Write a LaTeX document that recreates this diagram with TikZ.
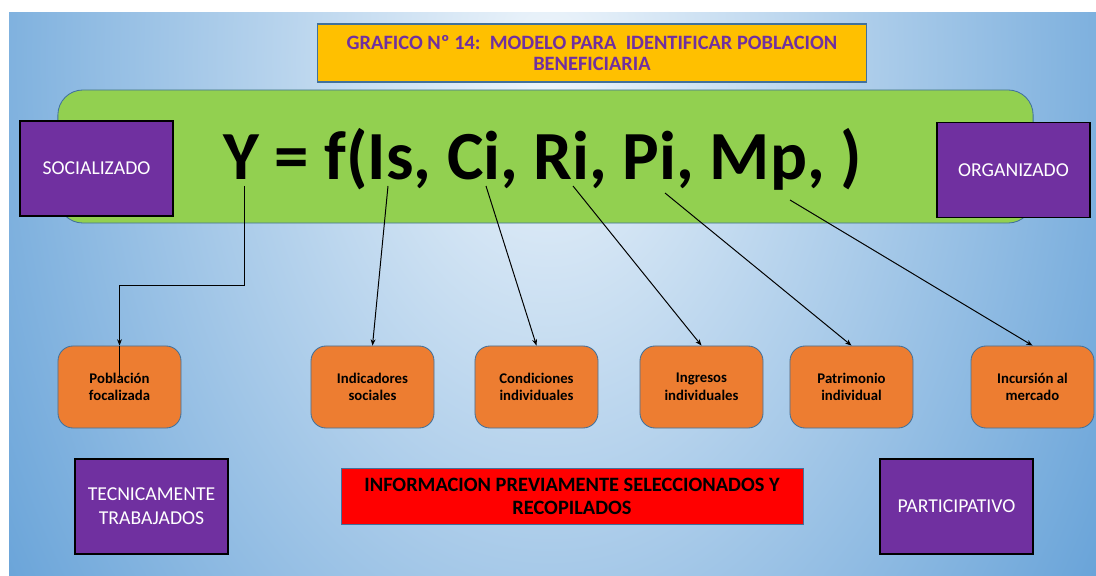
\documentclass[tikz,border=0pt]{standalone}
\usepackage{fontspec}
\setmainfont{Carlito}
\usetikzlibrary{arrows.meta}

\definecolor{bglight}{HTML}{EEF5FB}
\definecolor{bgdark}{HTML}{5B9BD5}
\definecolor{titleyellow}{HTML}{FFC000}
\definecolor{titlepurple}{HTML}{7030A0}
\definecolor{boxpurple}{HTML}{7030A0}
\definecolor{formgreen}{HTML}{92D050}
\definecolor{boxorange}{HTML}{ED7D31}
\definecolor{edgeblue}{HTML}{41719C}
\pgfdeclareradialshading{bgglow}{\pgfpoint{0bp}{0bp}}{color(0bp)=(bglight); color(25bp)=(bgdark); color(50bp)=(bgdark)}

\begin{document}
\begin{tikzpicture}[x=0.025cm, y=-0.025cm,
        purplebox/.style={draw=black, line width=1pt, fill=boxpurple, text=white,
            minimum width=3.825cm, minimum height=2.375cm, align=center,
            font=\fontsize{14}{17}\selectfont},
        varbox/.style={draw=edgeblue, line width=0.6pt, fill=boxorange, rounded corners=0.375cm,
            minimum width=3.075cm, minimum height=2.05cm, align=center,
            font=\bfseries\fontsize{10.5}{12.5}\selectfont},
        arr/.style={-{Stealth[length=4.5pt, width=3.5pt]}, line width=0.7pt}]
    \useasboundingbox (0,0) rectangle (1096,576);
    \fill[white] (0,0) rectangle (1096,576);

    % fondo
    \fill[bgdark] (9,13) rectangle (1096,576);
    \begin{scope}
        \clip (9,13) rectangle (1096,576);
        \shade[shading=bgglow] (548,60) ellipse (18cm and 26.6cm);
    \end{scope}

    \node[draw=edgeblue, line width=0.8pt, fill=titleyellow, minimum width=13.7cm, minimum height=1.45cm,
        align=center, text=titlepurple, font=\bfseries\fontsize{14.5}{15.5}\selectfont] (titulo) at (592,53)
        {GRAFICO Nº 14:\ \ MODELO PARA\ \ IDENTIFICAR POBLACION\\BENEFICIARIA};

    \node[draw=edgeblue, line width=0.6pt, fill=formgreen, rounded corners=0.625cm,
        minimum width=24.375cm, minimum height=3.325cm] (franja) at (545.5,156.5) {};
    \node[anchor=base, font=\bfseries\fontsize{49}{55}\selectfont] (funcion) at (542.5,180)
        {Y = f(Is, Ci, Ri, Pi, Mp, )};

    \node[purplebox] (socializado) at (96.5,168.5) {SOCIALIZADO};
    \node[purplebox] (organizado) at (1013.5,170) {ORGANIZADO};
    \node[purplebox] (tecnicamente) at (151.5,506.5) {TECNICAMENTE\\TRABAJADOS};
    \node[purplebox] (participativo) at (956.5,506.5) {PARTICIPATIVO};

    \node[varbox] (pob) at (119.5,387) {Población\\focalizada};
    \node[varbox] (ind) at (372.5,387) {Indicadores\\sociales};
    \node[varbox] (cond) at (536.5,387) {Condiciones\\individuales};
    \node[varbox] (ing) at (701.5,387) {Ingresos\\individuales};
    \node[varbox] (pat) at (851.5,387) {Patrimonio\\individual};
    \node[varbox] (inc) at (1032.5,387) {Incursión al\\mercado};

    \node[draw=edgeblue, line width=0.6pt, fill=red, minimum width=11.55cm, minimum height=1.4cm,
        align=center, font=\bfseries\fontsize{14.5}{16.5}\selectfont] (info) at (572,496)
        {INFORMACION PREVIAMENTE SELECCIONADOS Y\\RECOPILADOS};

    \coordinate (cY) at (244,186);
    \coordinate (cIs) at (388,186);
    \coordinate (cCi) at (486,186);
    \coordinate (cRi) at (573,186);
    \coordinate (cPi) at (665,193);
    \coordinate (cMp) at (790,200);
    \coordinate (codo) at (244,285);
    \coordinate (pobfin) at (119.5,378);

    \draw[arr] (cY) -- (codo) -| (pob.north);
    \draw[line width=0.7pt] (pob.north) -- (pobfin);
    \draw[arr] (cIs) -- (ind.north);
    \draw[arr] (cCi) -- (cond.north);
    \draw[arr] (cRi) -- (ing.north);
    \draw[arr] (cPi) -- (pat.north);
    \draw[arr] (cMp) -- (inc.north);
\end{tikzpicture}
\end{document}
